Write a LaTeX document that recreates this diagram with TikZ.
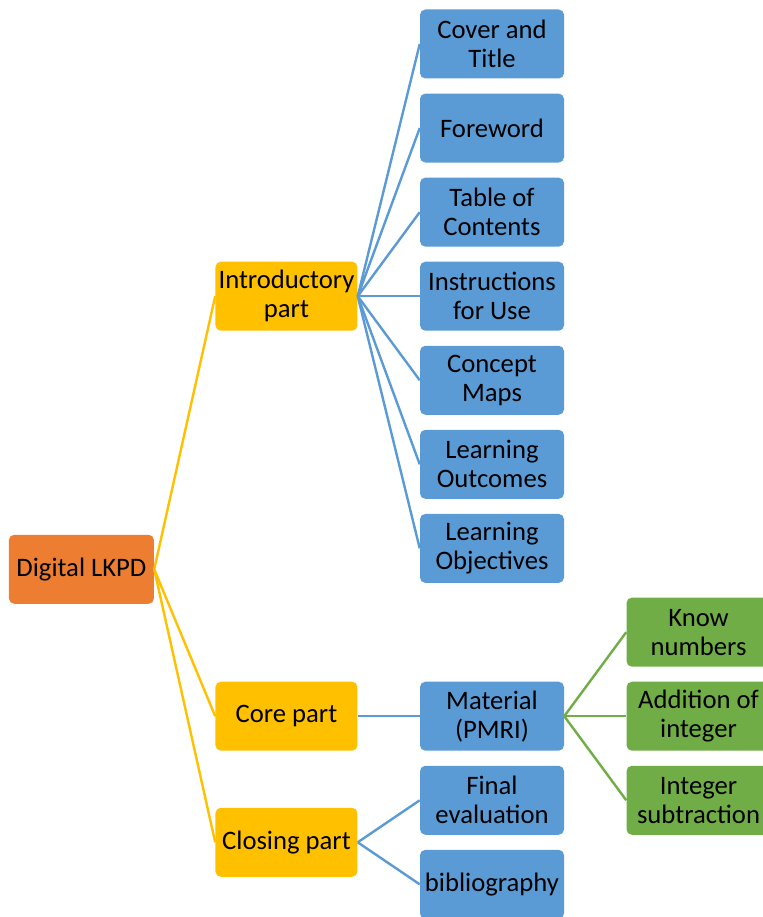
\documentclass[tikz,border=0pt]{standalone}
\usepackage{fontspec}
\setmainfont{Carlito}
\usetikzlibrary{positioning, calc}
\usepackage{xcolor}
\definecolor{rootOrange}{HTML}{ED7D31}
\definecolor{partYellow}{HTML}{FFC000}
\definecolor{itemBlue}{HTML}{5B9BD5}
\definecolor{subGreen}{HTML}{70AD47}
\tikzset{
    font=\fontsize{20}{21.75}\selectfont,
    % Boxes
    box/.style={rectangle, rounded corners=4pt, minimum width=108pt,
                minimum height=51.75pt, align=center, inner sep=2pt, text=black},
    rootBox/.style={box, fill=rootOrange, minimum width=108.75pt},
    partBox/.style={box, fill=partYellow, minimum width=106.5pt},
    itemBox/.style={box, fill=itemBlue},
    subBox/.style={box, fill=subGreen},
    % Links
    partLink/.style={line width=1.8pt, partYellow},
    itemLink/.style={line width=1.8pt, itemBlue},
    subLink/.style={line width=1.8pt, subGreen}
}

\begin{document}
\begin{tikzpicture}[node distance=10.9pt and 46.5pt]

\useasboundingbox (0,0) rectangle (572.25pt,-687.75pt);
\clip (0,0) rectangle (572.25pt,-687.75pt);

% blue column
\node[itemBox] (cover) at (369pt,-33pt) {Cover and\\Title};
\node[itemBox, below=of cover] (foreword) {Foreword};
\node[itemBox, below=of foreword] (toc) {Table of\\Contents};
\node[itemBox, below=of toc] (instr) {Instructions\\for Use};
\node[itemBox, below=of instr] (concept) {Concept\\Maps};
\node[itemBox, below=of concept] (outcomes) {Learning\\Outcomes};
\node[itemBox, below=of outcomes] (objectives) {Learning\\Objectives};
\node[itemBox, below=73.7pt of objectives] (material) {Material\\(PMRI)};
\node[itemBox, below=of material] (final) {Final\\evaluation};
\node[itemBox, below=of final] (biblio) {bibliography};

% green column
\node[subBox, right=of material] (addition) {Addition of\\integer};
\node[subBox, above=of addition] (know) {Know\\numbers};
\node[subBox, below=of addition] (subtract) {Integer\\subtraction};

% yellow parts
\path (final.west) -- (biblio.west) coordinate[midway] (closingMid);
\node[partBox, left=of instr] (intro) {Introductory\\part};
\node[partBox, left=of material] (core) {Core part};
\node[partBox, left=of closingMid] (closing) {Closing part};

% root
\path (intro.west) -- (closing.west) coordinate[midway] (rootMid);
\node[rootBox, left=45.75pt of rootMid] (root) {Digital LKPD};

% links
\foreach \p in {intro, core, closing}
    \draw[partLink] (root.east) -- (\p.west);
\foreach \t in {cover, foreword, toc, instr, concept, outcomes, objectives}
    \draw[itemLink] (intro.east) -- (\t.west);
\draw[itemLink] (core.east) -- (material.west);
\draw[itemLink] (closing.east) -- (final.west);
\draw[itemLink] (closing.east) -- (biblio.west);
\foreach \s in {know, addition, subtract}
    \draw[subLink] (material.east) -- (\s.west);

\end{tikzpicture}
\end{document}
